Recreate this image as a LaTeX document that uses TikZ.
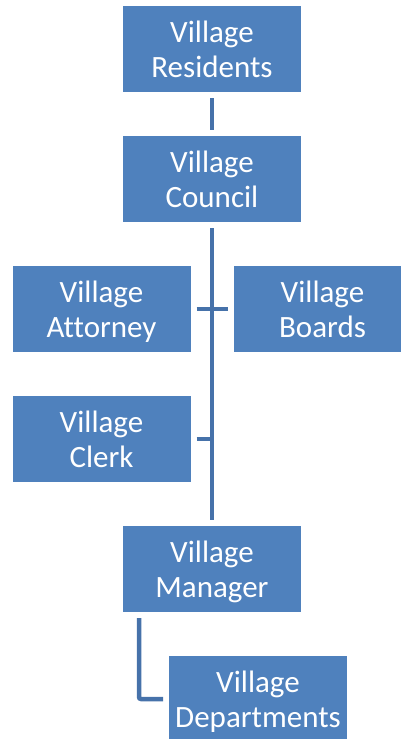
\documentclass[tikz,border=0pt]{standalone}
\usepackage{fontspec}
\setmainfont{Carlito}[Ligatures=NoCommon]
\usetikzlibrary{positioning}
\definecolor{boxblue}{RGB}{79,129,189}
\definecolor{lineblue}{RGB}{70,114,170}
\newcommand\twolines[2]{\rule{0pt}{31.5pt}#1\\#2\strut}

\begin{document}
\begin{tikzpicture}[node distance=32pt,
  box/.style={rectangle,fill=boxblue,text=white,minimum width=178pt,minimum height=86pt,
    outer sep=6pt,inner sep=0pt,align=center,font=\fontsize{31}{35}\selectfont},
  link/.style={draw=lineblue,line width=4.5pt}]
\useasboundingbox (0,0) rectangle (401pt,-739pt);
\node[box] (res) at (212pt,-49pt) {\twolines{Village}{Residents}};
\node[box,below=of res] (council) {\twolines{Village}{Council}};
\node[box,below=of council,xshift=-110.5pt] (attorney) {\twolines{Village}{Attorney}};
\node[box,below=of council,xshift=110.5pt] (boards) {\twolines{Village}{Boards}};
\node[box,below=of attorney] (clerk) {\twolines{Village}{Clerk}};
\node[box,below=of clerk,xshift=110.5pt] (manager) {\twolines{Village}{Manager}};
\node[box,below=of manager,xshift=46pt] (depts) {\twolines{Village}{Departments}};
\path[link] (res.south) -- (council.north);
\path[link] (council.south) -- (manager.north);
\path[link] (attorney.east) -- (boards.west);
\path[link] (clerk.east) -- (clerk.east -| council.south);
\path[link,rounded corners=2pt] ([xshift=22pt]manager.south west) |- (depts.west);
\end{tikzpicture}
\end{document}
